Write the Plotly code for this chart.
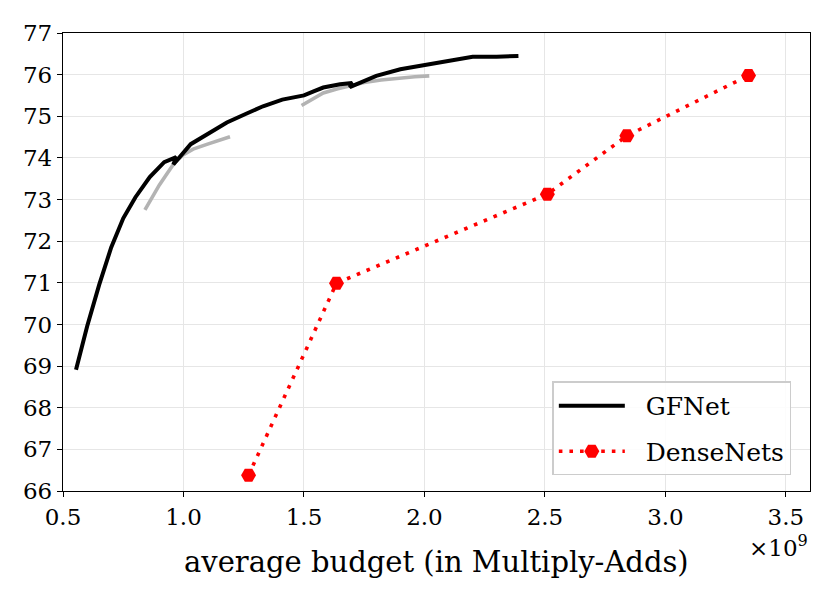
import plotly.graph_objects as go

# GFNet (black) - x in units of 1e9 Multiply-Adds
gf_x = [0.554, 0.60, 0.65, 0.70, 0.75, 0.80, 0.86, 0.92, 0.97, 0.958, 1.03, 1.10, 1.18, 1.26,
        1.33, 1.41, 1.50, 1.54, 1.58, 1.65, 1.70, 1.69, 1.75, 1.80, 1.90, 2.00, 2.09, 2.20,
        2.30, 2.39]
gf_y = [68.91, 69.95, 70.95, 71.85, 72.55, 73.05, 73.54, 73.90, 74.02, 73.84, 74.33, 74.58,
        74.85, 75.06, 75.24, 75.40, 75.50, 75.60, 75.69, 75.77, 75.80, 75.70, 75.86, 75.97,
        76.13, 76.23, 76.31, 76.43, 76.43, 76.45]

# gray segments
g1_x = [0.84, 0.87, 0.90, 0.935, 0.965, 1.00, 1.04, 1.10, 1.15, 1.193]
g1_y = [72.75, 73.05, 73.35, 73.65, 73.90, 74.08, 74.21, 74.33, 74.42, 74.51]
g2_x = [1.49, 1.54, 1.58, 1.64, 1.69, 1.75, 1.82, 1.90, 1.96, 2.02]
g2_y = [75.26, 75.42, 75.56, 75.66, 75.73, 75.81, 75.87, 75.92, 75.95, 75.97]

# DenseNets (red)
dn_x = [1.27, 1.635, 2.51, 2.84, 3.345]
dn_y = [66.38, 70.99, 73.13, 74.53, 75.98]

x_ticks = [0.5, 1.0, 1.5, 2.0, 2.5, 3.0, 3.5]
y_ticks = list(range(66, 78))
series_names = ["GFNet", "DenseNets"]

FONT = "DejaVu Serif"
PAD = "\u00a0\u00a0"

fig = go.Figure()
for gx, gy in [(g1_x, g1_y), (g2_x, g2_y)]:
    fig.add_trace(go.Scatter(x=gx, y=gy, mode="lines",
                             line=dict(color="#b3b3b3", width=3.6),
                             showlegend=False, hoverinfo="skip"))
fig.add_trace(go.Scatter(x=gf_x, y=gf_y, mode="lines", name=PAD + series_names[0],
                         line=dict(color="black", width=4), legendgroup="a"))
fig.add_trace(go.Scatter(x=dn_x, y=dn_y, mode="lines+markers", name=PAD + series_names[1],
                         line=dict(color="red", width=3.6, dash="3.6px,7px"),
                         marker=dict(symbol="hexagon2", size=15, color="red"),
                         legendgroup="b"))

axis_common = dict(showgrid=True, gridcolor="#e6e6e6", gridwidth=1,
                   showline=True, linecolor="black", linewidth=1.3, mirror=True,
                   ticks="outside", ticklen=5, tickcolor="black", tickwidth=1.3,
                   zeroline=False, tickfont=dict(size=23))

# page body has an 8px margin, so the figure is sized/offset to compensate
fig.update_layout(
    width=823, height=589,
    margin=dict(l=55, r=21, t=19, b=106),
    paper_bgcolor="white", plot_bgcolor="white",
    font=dict(family=FONT, color="black", size=23),
    xaxis=dict(range=[0.5, 3.6], tickvals=x_ticks, ticktext=[f"{v:.1f}" for v in x_ticks],
               **axis_common),
    yaxis=dict(range=[66, 77], tickvals=y_ticks, **axis_common),
    legend=dict(x=0.975, y=0.034, xanchor="right", yanchor="bottom",
                bgcolor="rgba(255,255,255,0.85)", bordercolor="#cccccc", borderwidth=1.5,
                font=dict(family=FONT, size=25), traceorder="grouped", tracegroupgap=10,
                itemwidth=66),
    showlegend=True,
)

fig.add_annotation(text="average budget (in Multiply-Adds)", xref="paper", yref="paper",
                   x=0.50, y=-0.155, xanchor="center", yanchor="middle", showarrow=False,
                   font=dict(family=FONT, size=29))
fig.add_annotation(text="×10<sup>9</sup>", xref="paper", yref="paper",
                   x=1.0, y=-0.12, xanchor="right", yanchor="middle", showarrow=False,
                   font=dict(family=FONT, size=23))

fig.write_html("out.html")
